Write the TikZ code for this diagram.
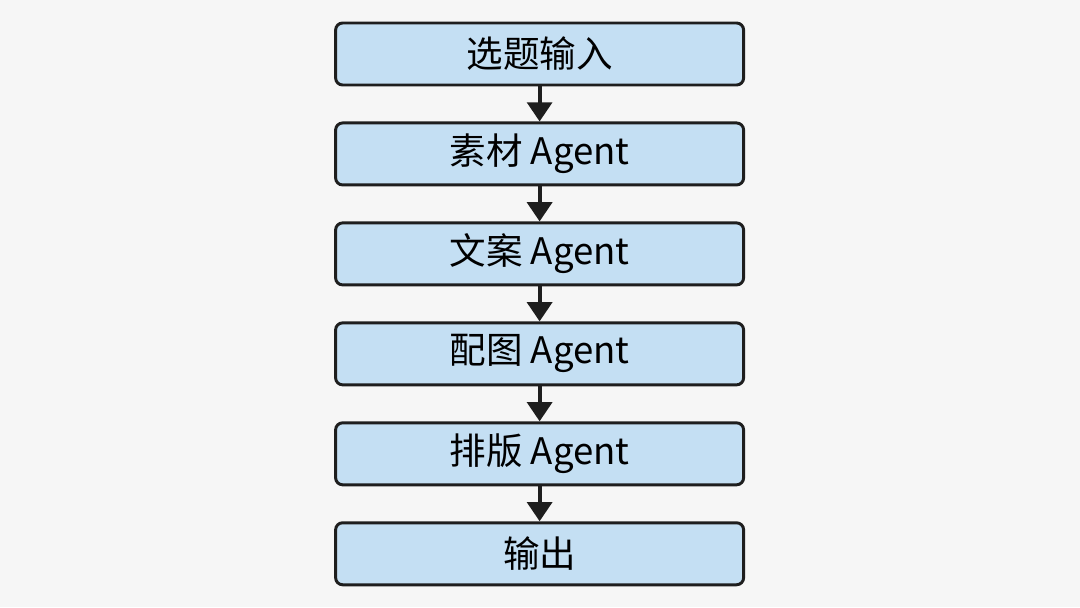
\documentclass[tikz,border=0pt]{standalone}
\usepackage{fontspec}
\setmainfont{Noto Sans CJK SC}
\usepackage{xcolor}
\usetikzlibrary{arrows.meta,positioning}
\definecolor{bgx}{HTML}{F6F6F6}
\definecolor{boxblue}{HTML}{C4DFF3}
\definecolor{edgex}{HTML}{1E1E1E}
\tikzset{
  ar/.style={-{Triangle[length=4.8mm,width=6.2mm]},line width=2.8pt,edgex},
  box/.style={draw=edgex,line width=2.1pt,rounded corners=5pt,fill=boxblue,align=center,
    minimum width=10.2cm,minimum height=1.55cm,inner sep=0pt,font=\fontsize{26}{30}\selectfont}
}
\begin{document}
\begin{tikzpicture}[node distance=0.875cm]
\fill[bgx] (0,0) rectangle (27,-15.175);
\node[box] (in) at (13.49,-1.35) {选题输入};
\node[box,below=of in] (src) {素材 Agent};
\node[box,below=of src] (copy) {文案 Agent};
\node[box,below=of copy] (img) {配图 Agent};
\node[box,below=of img] (lay) {排版 Agent};
\node[box,below=of lay] (out) {输出};
\foreach \a/\b in {in/src,src/copy,copy/img,img/lay,lay/out}
  \draw[ar] (\a) -- (\b);
\end{tikzpicture}
\end{document}
